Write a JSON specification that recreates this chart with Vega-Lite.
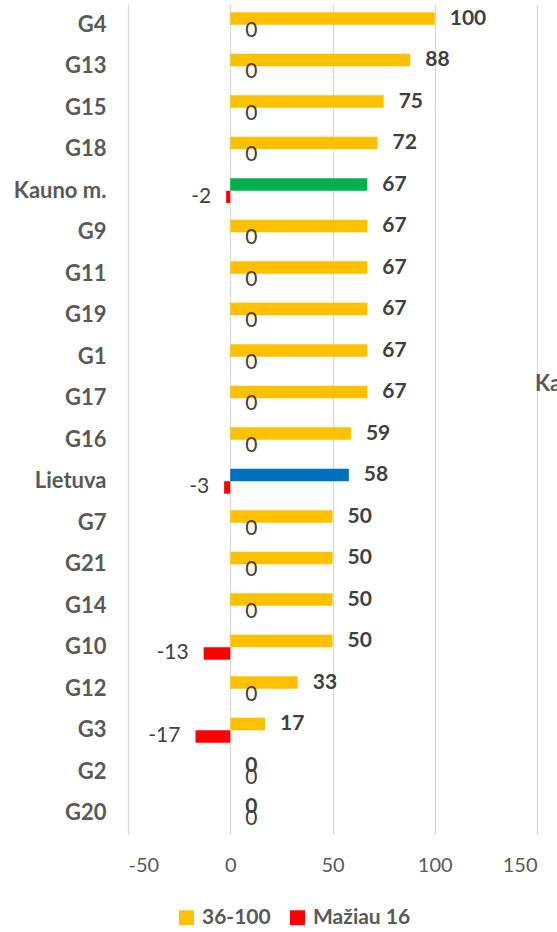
{
  "$schema": "https://vega.github.io/schema/vega-lite/v6.json",
  "width": 409,
  "height": 830,
  "autosize": "none",
  "padding": {"left": 128, "top": 4, "right": 20, "bottom": 98},
  "background": "white",
  "config": {
    "font": "Lato",
    "view": {"stroke": null},
    "locale": {
      "number": {"decimal": ".", "thousands": ",", "grouping": [3], "currency": ["", ""], "minus": "-"}
    }
  },
  "data": {
    "values": [
      {"group": "G4", "series": "36-100", "kind": "36-100", "value": 100},
      {"group": "G13", "series": "36-100", "kind": "36-100", "value": 88},
      {"group": "G15", "series": "36-100", "kind": "36-100", "value": 75},
      {"group": "G18", "series": "36-100", "kind": "36-100", "value": 72},
      {"group": "Kauno m.", "series": "36-100", "kind": "Kauno m.", "value": 67},
      {"group": "G9", "series": "36-100", "kind": "36-100", "value": 67},
      {"group": "G11", "series": "36-100", "kind": "36-100", "value": 67},
      {"group": "G19", "series": "36-100", "kind": "36-100", "value": 67},
      {"group": "G1", "series": "36-100", "kind": "36-100", "value": 67},
      {"group": "G17", "series": "36-100", "kind": "36-100", "value": 67},
      {"group": "G16", "series": "36-100", "kind": "36-100", "value": 59},
      {"group": "Lietuva", "series": "36-100", "kind": "Lietuva", "value": 58},
      {"group": "G7", "series": "36-100", "kind": "36-100", "value": 50},
      {"group": "G21", "series": "36-100", "kind": "36-100", "value": 50},
      {"group": "G14", "series": "36-100", "kind": "36-100", "value": 50},
      {"group": "G10", "series": "36-100", "kind": "36-100", "value": 50},
      {"group": "G12", "series": "36-100", "kind": "36-100", "value": 33},
      {"group": "G3", "series": "36-100", "kind": "36-100", "value": 17},
      {"group": "G2", "series": "36-100", "kind": "36-100", "value": 0},
      {"group": "G20", "series": "36-100", "kind": "36-100", "value": 0},
      {"group": "G4", "series": "Mažiau 16", "kind": "Mažiau 16", "value": 0},
      {"group": "G13", "series": "Mažiau 16", "kind": "Mažiau 16", "value": 0},
      {"group": "G15", "series": "Mažiau 16", "kind": "Mažiau 16", "value": 0},
      {"group": "G18", "series": "Mažiau 16", "kind": "Mažiau 16", "value": 0},
      {"group": "Kauno m.", "series": "Mažiau 16", "kind": "Mažiau 16", "value": -2},
      {"group": "G9", "series": "Mažiau 16", "kind": "Mažiau 16", "value": 0},
      {"group": "G11", "series": "Mažiau 16", "kind": "Mažiau 16", "value": 0},
      {"group": "G19", "series": "Mažiau 16", "kind": "Mažiau 16", "value": 0},
      {"group": "G1", "series": "Mažiau 16", "kind": "Mažiau 16", "value": 0},
      {"group": "G17", "series": "Mažiau 16", "kind": "Mažiau 16", "value": 0},
      {"group": "G16", "series": "Mažiau 16", "kind": "Mažiau 16", "value": 0},
      {"group": "Lietuva", "series": "Mažiau 16", "kind": "Mažiau 16", "value": -3},
      {"group": "G7", "series": "Mažiau 16", "kind": "Mažiau 16", "value": 0},
      {"group": "G21", "series": "Mažiau 16", "kind": "Mažiau 16", "value": 0},
      {"group": "G14", "series": "Mažiau 16", "kind": "Mažiau 16", "value": 0},
      {"group": "G10", "series": "Mažiau 16", "kind": "Mažiau 16", "value": -13},
      {"group": "G12", "series": "Mažiau 16", "kind": "Mažiau 16", "value": 0},
      {"group": "G3", "series": "Mažiau 16", "kind": "Mažiau 16", "value": -17},
      {"group": "G2", "series": "Mažiau 16", "kind": "Mažiau 16", "value": 0},
      {"group": "G20", "series": "Mažiau 16", "kind": "Mažiau 16", "value": 0}
    ]
  },
  "encoding": {
    "y": {
      "field": "group",
      "type": "nominal",
      "sort": ["G4", "G13", "G15", "G18", "Kauno m.", "G9", "G11", "G19", "G1", "G17", "G16", "Lietuva", "G7", "G21", "G14", "G10", "G12", "G3", "G2", "G20"],
      "scale": {"paddingInner": 0.4, "paddingOuter": 0.2},
      "axis": {
        "title": null,
        "domain": false,
        "ticks": false,
        "grid": false,
        "labelFont": "Lato",
        "labelFontWeight": "bold",
        "labelFontSize": 22,
        "labelColor": "#595959",
        "labelPadding": 22
      }
    },
    "yOffset": {
      "field": "series",
      "type": "nominal",
      "sort": ["36-100", "Mažiau 16"],
      "scale": {"domain": ["36-100", "Mažiau 16"]}
    },
    "x": {
      "field": "value",
      "type": "quantitative",
      "scale": {"domain": [-50, 150], "nice": false, "zero": false},
      "axis": {
        "values": [-50, 0, 50, 100, 150],
        "title": null,
        "domain": false,
        "ticks": false,
        "grid": true,
        "gridColor": "#d9d9d9",
        "gridWidth": 1.3,
        "labelFont": "Lato",
        "labelFontSize": 20,
        "labelColor": "#595959",
        "labelPadding": 21
      }
    }
  },
  "layer": [
    {
      "mark": {"type": "bar"},
      "encoding": {
        "color": {
          "field": "kind",
          "type": "nominal",
          "scale": {
            "domain": ["36-100", "Mažiau 16", "Kauno m.", "Lietuva"],
            "range": ["#FFC000", "#FF0000", "#00B050", "#0070C0"]
          },
          "legend": {
            "values": ["36-100", "Mažiau 16"],
            "orient": "none",
            "legendX": 48,
            "legendY": 903,
            "direction": "horizontal",
            "title": null,
            "symbolType": "square",
            "symbolSize": 225,
            "symbolStrokeWidth": 0,
            "labelFont": "Lato",
            "labelFontSize": 21,
            "labelFontWeight": "bold",
            "labelColor": "#595959",
            "labelOffset": 5,
            "columnPadding": 16
          }
        }
      }
    },
    {
      "transform": [{"filter": "datum.series === '36-100'"}],
      "mark": {"type": "text", "align": "left", "baseline": "middle", "dx": 15, "font": "Lato", "fontSize": 21, "fontWeight": "bold", "color": "#404040"},
      "encoding": {"text": {"field": "value", "type": "quantitative"}}
    },
    {
      "transform": [{"filter": "datum.series === 'Mažiau 16' && datum.value < 0"}],
      "mark": {"type": "text", "align": "right", "baseline": "middle", "dx": -15, "font": "Lato", "fontSize": 21, "color": "#404040"},
      "encoding": {"text": {"field": "value", "type": "quantitative"}}
    },
    {
      "transform": [{"filter": "datum.series === 'Mažiau 16' && datum.value === 0"}],
      "mark": {"type": "text", "align": "left", "baseline": "middle", "dx": 15, "font": "Lato", "fontSize": 21, "color": "#404040"},
      "encoding": {"text": {"field": "value", "type": "quantitative"}}
    },
    {
      "data": {"values": [{"group": "G17", "series": "36-100", "value": 150, "label": "Kauno m."}]},
      "mark": {"type": "text", "align": "left", "baseline": "middle", "dx": -2, "dy": -8, "font": "Lato", "fontSize": 22, "fontWeight": "bold", "color": "#595959"},
      "encoding": {"text": {"field": "label", "type": "nominal"}}
    }
  ]
}
